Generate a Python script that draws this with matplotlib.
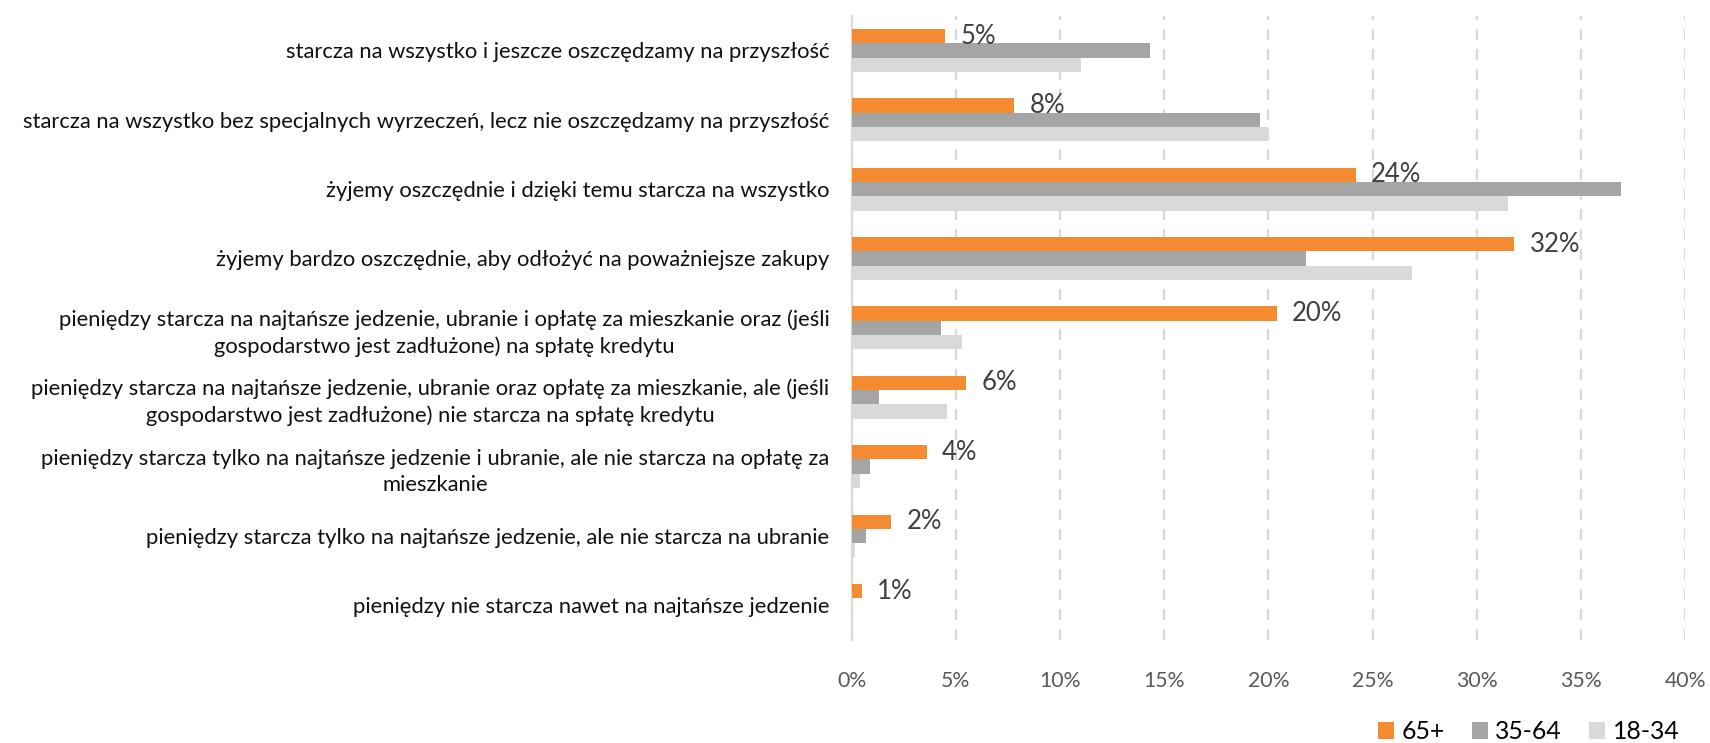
import matplotlib
matplotlib.use('Agg')
import matplotlib.pyplot as plt
import numpy as np

plt.rcParams['font.family'] = ['Lato', 'DejaVu Sans']

categories = [
    'starcza na wszystko i jeszcze oszczędzamy na przyszłość',
    'starcza na wszystko bez specjalnych wyrzeczeń, lecz nie oszczędzamy na przyszłość',
    'żyjemy oszczędnie i dzięki temu starcza na wszystko',
    'żyjemy bardzo oszczędnie, aby odłożyć na poważniejsze zakupy',
    'pieniędzy starcza na najtańsze jedzenie, ubranie i opłatę za mieszkanie oraz (jeśli\ngospodarstwo jest zadłużone) na spłatę kredytu',
    'pieniędzy starcza na najtańsze jedzenie, ubranie oraz opłatę za mieszkanie, ale (jeśli\ngospodarstwo jest zadłużone) nie starcza na spłatę kredytu',
    'pieniędzy starcza tylko na najtańsze jedzenie i ubranie, ale nie starcza na opłatę za\nmieszkanie',
    'pieniędzy starcza tylko na najtańsze jedzenie, ale nie starcza na ubranie',
    'pieniędzy nie starcza nawet na najtańsze jedzenie',
]
series_names = ['65+', '35-64', '18-34']
age_65 = [4.5, 7.8, 24.2, 31.8, 20.4, 5.5, 3.6, 1.9, 0.5]
age_35_64 = [14.3, 19.6, 36.9, 21.8, 4.3, 1.3, 0.9, 0.7, 0.0]
age_18_34 = [11.0, 20.0, 31.5, 26.9, 5.3, 4.6, 0.4, 0.15, 0.0]
labels_65 = ['5%', '8%', '24%', '32%', '20%', '6%', '4%', '2%', '1%']
colors = ['#F58B30', '#A5A5A5', '#D9D9D9']

fig = plt.figure(figsize=(17.1, 7.43), dpi=100)
ax = fig.add_axes([0.498, 0.1386, 0.4875, 0.8403])

y = np.arange(len(categories))
h = 0.206
bars_65 = ax.barh(y - h, age_65, height=h, color=colors[0], label=series_names[0], zorder=3)
ax.barh(y, age_35_64, height=h, color=colors[1], label=series_names[1], zorder=3)
ax.barh(y + h, age_18_34, height=h, color=colors[2], label=series_names[2], zorder=3)

for bar, txt in zip(bars_65, labels_65):
    ax.annotate(txt, (bar.get_width(), bar.get_y() + bar.get_height() / 2),
                xytext=(11, 0), textcoords='offset points', ha='left', va='center',
                fontsize=18.5, color='#404040', zorder=4)

ax.set_xlim(0, 40)
ax.set_ylim(len(categories) - 0.5, -0.5)
ax.set_xticks(np.arange(0, 41, 5))
ax.set_xticklabels([f'{v}%' for v in range(0, 41, 5)])
ax.set_yticks(y)
ax.set_yticklabels(categories)
for lab in ax.get_yticklabels():
    lab.set_multialignment('center')
    lab.set_linespacing(1.37)

ax.tick_params(axis='y', length=0, pad=16, labelsize=15.8, labelcolor='#111111')
ax.tick_params(axis='x', length=0, pad=22, labelsize=15.3, labelcolor='#595959')
ax.xaxis.grid(True, linestyle=(0, (5, 4)), color='#D9D9D9', linewidth=1.6, zorder=0)
for s in ['top', 'right', 'bottom']:
    ax.spines[s].set_visible(False)
ax.spines['left'].set_color('#D9D9D9')
ax.spines['left'].set_linewidth(1.6)

fig.legend(loc='lower right', bbox_to_anchor=(0.995, -0.03), ncol=3, frameon=False,
           fontsize=17.8, handlelength=0.65, handleheight=0.65, handletextpad=0.3,
           columnspacing=1.1)

fig.savefig('out.png', dpi=100)
